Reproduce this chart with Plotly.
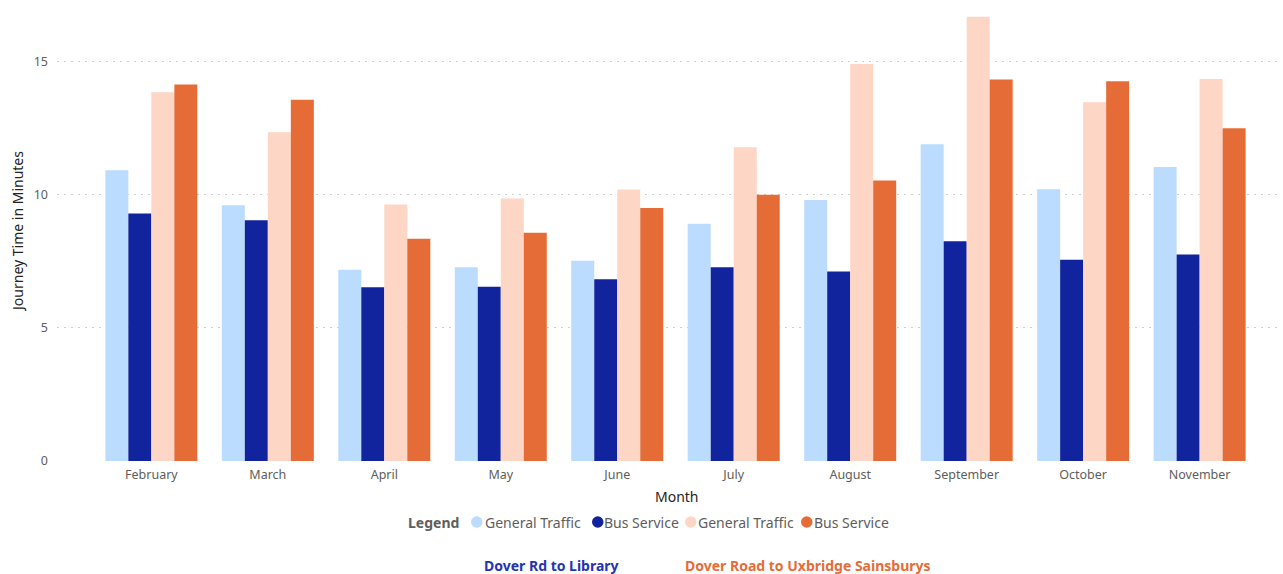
import plotly.graph_objects as go

months = ["February", "March", "April", "May", "June", "July", "August",
          "September", "October", "November"]
library_general = [10.93, 9.61, 7.19, 7.28, 7.53, 8.92, 9.81, 11.90, 10.21, 11.05]
library_bus = [9.30, 9.05, 6.53, 6.55, 6.83, 7.28, 7.12, 8.26, 7.56, 7.76]
uxbridge_general = [13.86, 12.36, 9.64, 9.87, 10.20, 11.79, 14.92, 16.70, 13.48, 14.36]
uxbridge_bus = [14.15, 13.58, 8.35, 8.58, 9.51, 10.01, 10.54, 14.34, 14.27, 12.51]

series_names = ["General Traffic", "Bus Service", "General Traffic", "Bus Service"]
series_values = [library_general, library_bus, uxbridge_general, uxbridge_bus]
series_colors = ["#BBDCFE", "#12239E", "#FDD6C6", "#E66C37"]

FONT = "Noto Sans, Segoe UI, sans-serif"
W, H = 1283, 574
L, R, T, B = 57, 3, 10, 113
PW, PH = W - L - R, H - T - B


def px(x):
    return (x - L) / PW


def py(y):
    return (H - B - y) / PH


fig = go.Figure()
for name, vals, col in zip(series_names, series_values, series_colors):
    fig.add_trace(go.Bar(x=months, y=vals, name=name, marker_color=col,
                         marker_line_width=0, showlegend=False))

fig.update_layout(
    width=W, height=H,
    margin=dict(l=L, r=R, t=T, b=B),
    plot_bgcolor="white", paper_bgcolor="white",
    barmode="group", bargap=0.21, bargroupgap=0,
    font=dict(family=FONT, color="#605E5C"),
    showlegend=False,
)

fig.update_xaxes(
    type="category", range=[-0.81, 9.69],
    showgrid=False, zeroline=False, showline=False, ticks="",
    tickfont=dict(size=12.5, color="#605E5C"), ticklabelstandoff=4,
)
fig.update_yaxes(
    range=[0, 16.95], tickvals=[0, 5, 10, 15],
    showgrid=True, gridcolor="#CFCFCF", griddash="1.5px,5.5px", gridwidth=1,
    zeroline=False, showline=False, ticks="",
    tickfont=dict(size=12.5, color="#605E5C"), ticklabelstandoff=8,
)

ann = dict(xref="paper", yref="paper", showarrow=False,
           xanchor="center", yanchor="middle")
fig.add_annotation(text="Journey Time in Minutes", x=px(18), y=py(232), textangle=-90,
                   font=dict(size=14, color="#252423"), **ann)
fig.add_annotation(text="Month", x=px(677), y=py(496),
                   font=dict(size=14, color="#252423"), **ann)
fig.add_annotation(text="<b>Dover Rd to Library</b>", x=px(551), y=py(565),
                   font=dict(size=14, color="#2533B0"), **ann)
fig.add_annotation(text="<b>Dover Road to Uxbridge Sainsburys</b>", x=px(808), y=py(565),
                   font=dict(size=14, color="#E66C37"), **ann)

# custom legend (title, circle markers, labels)
LEG_Y = 522
leg = dict(xref="paper", yref="paper", showarrow=False,
           xanchor="left", yanchor="middle")
fig.add_annotation(text="<b>Legend</b>", x=px(406), y=py(LEG_Y),
                   font=dict(size=14, color="#605E5C"), **leg)
circle_left = [471, 592, 685, 801]
text_left = [483, 602, 696, 812]
for name, col, cx, tx in zip(series_names, series_colors, circle_left, text_left):
    fig.add_shape(type="circle", xref="paper", yref="paper",
                  x0=px(cx), x1=px(cx + 11.5), y0=py(LEG_Y + 5.75), y1=py(LEG_Y - 5.75),
                  fillcolor=col, line_width=0)
    fig.add_annotation(text=name, x=px(tx), y=py(LEG_Y),
                       font=dict(size=14, color="#605E5C"), **leg)

fig.write_html("out.html")
